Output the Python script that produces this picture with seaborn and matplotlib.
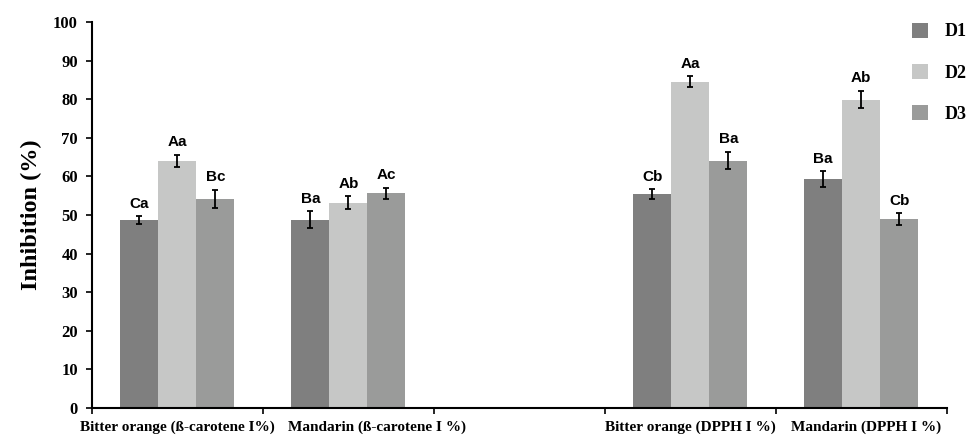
import pandas as pd
import numpy as np
import matplotlib.pyplot as plt
import seaborn as sns
from matplotlib.patches import Patch
from matplotlib.transforms import ScaledTranslation

# data
categories = ["Bitter orange (ß-carotene I%)", "Mandarin (ß-carotene I %)",
              " ", "Bitter orange (DPPH I %)", "Mandarin (DPPH I %)"]
groups = ["D1", "D2", "D3"]

bo_beta = [48.7, 64.0, 54.2]
md_beta = [48.8, 53.2, 55.6]
bo_dpph = [55.4, 84.5, 64.1]
md_dpph = [59.3, 79.9, 48.9]

bo_beta_err = [1.0, 1.6, 2.3]
md_beta_err = [2.1, 1.6, 1.4]
bo_dpph_err = [1.2, 1.4, 2.2]
md_dpph_err = [2.0, 2.2, 1.5]

bo_beta_lbl = ["Ca", "Aa", "Bc"]
md_beta_lbl = ["Ba", "Ab", "Ac"]
bo_dpph_lbl = ["Cb", "Aa", "Ba"]
md_dpph_lbl = ["Ba", "Ab", "Cb"]

colors = ["#7f7f7f", "#c6c7c6", "#9a9b9a"]

rows = []
for cat, vals, errs, lbls in [
    (categories[0], bo_beta, bo_beta_err, bo_beta_lbl),
    (categories[1], md_beta, md_beta_err, md_beta_lbl),
    (categories[3], bo_dpph, bo_dpph_err, bo_dpph_lbl),
    (categories[4], md_dpph, md_dpph_err, md_dpph_lbl),
]:
    for g, v, e, l in zip(groups, vals, errs, lbls):
        rows.append({"cat": cat, "group": g, "value": v, "err": e, "label": l})
data = pd.DataFrame(rows)

serif = "Liberation Serif"
sans = "Liberation Sans"

fig = plt.figure(figsize=(9.67, 4.38), dpi=100)
ax = fig.add_axes([0.095, 0.0685, 0.884, 0.8815])

sns.barplot(data=data, x="cat", y="value", hue="group", order=categories,
            hue_order=groups, palette=colors, width=0.667, errorbar=None,
            saturation=1, legend=False, ax=ax)

# error bars and letters on top of each bar
present = [c for c in categories if c in set(data["cat"])]
for g, cont in zip(groups, ax.containers):
    bars = sorted(cont.patches, key=lambda p: p.get_x())
    for cat, bar in zip(present, bars):
        row = data[(data["cat"] == cat) & (data["group"] == g)].iloc[0]
        xc = bar.get_x() + bar.get_width() / 2
        ax.errorbar(xc, row["value"], yerr=row["err"], fmt="none",
                    ecolor="black", elinewidth=1.3, capsize=2.5, capthick=1.3)
        ax.annotate(row["label"], (xc, row["value"] + row["err"]),
                    xytext=(0, 4), textcoords="offset points",
                    ha="center", va="bottom", fontsize=11,
                    fontweight="bold", family=sans)

ax.set_xlim(-0.5, 4.5)
ax.set_ylim(0, 100)
ax.set_yticks(np.arange(0, 101, 10))
ax.set_xticks(range(len(categories)))
ax.set_xticklabels(categories, fontsize=11, fontweight="bold", family=serif)
ax.set_xticks(np.arange(-0.5, 4.6, 1), minor=True)
ax.tick_params(axis="x", which="major", length=0, pad=9)
ax.tick_params(axis="x", which="minor", length=4, width=1.2)
ax.tick_params(axis="y", length=4, width=1.2, pad=6)
for t in ax.get_yticklabels():
    t.set_fontsize(12)
    t.set_fontweight("bold")
    t.set_family(serif)

# second label sits a bit right of its group in the original
lab = ax.get_xticklabels()[1]
lab.set_transform(lab.get_transform() + ScaledTranslation(0.29, 0, fig.dpi_scale_trans))
lab = ax.get_xticklabels()[4]
lab.set_transform(lab.get_transform() + ScaledTranslation(0.05, 0, fig.dpi_scale_trans))

ax.set_xlabel("")
ax.set_ylabel("Inhibition (%)", fontsize=17.5, fontweight="bold", family=serif,
              labelpad=8)

sns.despine(ax=ax)
for s in ["left", "bottom"]:
    ax.spines[s].set_linewidth(1.5)

handles = [Patch(facecolor=c, edgecolor="none") for c in colors]
ax.legend(handles, groups, loc="upper left", bbox_to_anchor=(0.94, 1.04),
          frameon=False, handlelength=0.9, handleheight=0.9,
          labelspacing=1.3, handletextpad=0.9,
          prop={"family": serif, "weight": "bold", "size": 13})

fig.savefig("out.png", dpi=100)
